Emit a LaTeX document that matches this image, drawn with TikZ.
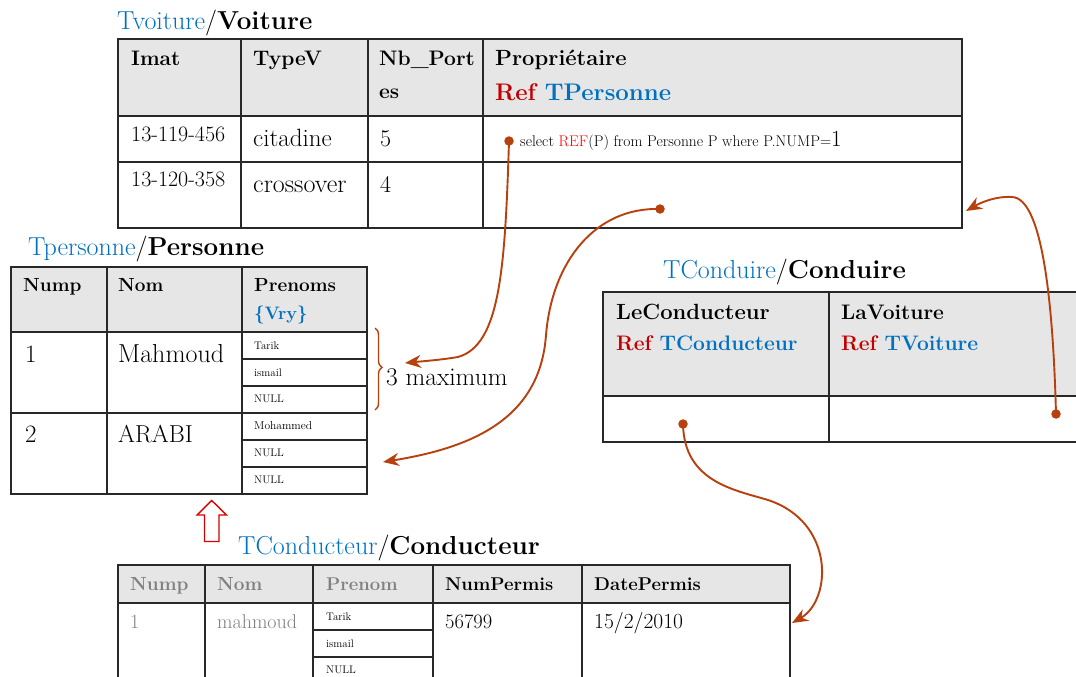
\documentclass[tikz,border=0pt]{standalone}
\usepackage{fontspec}
\usetikzlibrary{arrows.meta,decorations.pathreplacing}
\definecolor{tblue}{RGB}{0,112,192}
\definecolor{refred}{RGB}{192,0,0}
\definecolor{brightred}{RGB}{255,0,0}
\definecolor{rust}{RGB}{183,65,14}
\definecolor{hdrgray}{RGB}{230,230,230}
\definecolor{gridc}{RGB}{40,40,40}
\definecolor{greytxt}{RGB}{128,128,128}
\newcommand\fsz[1]{\fontsize{#1}{#1}\selectfont}
\tikzset{
  hdr/.style={fill=hdrgray},
  grid/.style={draw=gridc, line width=1.7pt},
  lbl/.style={anchor=base west, inner sep=0pt},
  title/.style={lbl, font=\fsz{26}},
  dot/.style={circle, fill=rust, inner sep=0pt, minimum size=9.5pt},
  link/.style={draw=rust, line width=1.9pt, -{Stealth[length=16pt,width=13pt]}},
}
\begin{document}
\begin{tikzpicture}[x=1pt,y=-1pt]
\clip (0,0) rectangle (1076,677);
\fill[white] (0,0) rectangle (1076,677);

% ---------- Voiture ----------
\node[title] (tvoit) at (117,30) {\textcolor{tblue}{Tvoiture}/\textbf{Voiture}};
\fill[hdr] (118,39) rectangle (962,116);
\draw[grid] (118,39) rectangle (962,228);
\draw[grid] (118,116) -- (962,116) (118,162) -- (962,162);
\draw[grid] (241,39) -- (241,228) (368,39) -- (368,228) (483,39) -- (483,228);
\node[lbl, font=\fsz{21}\bfseries] (v-imat) at (131,66) {Imat};
\node[lbl, font=\fsz{21}\bfseries] (v-type) at (253,66) {TypeV};
\node[lbl, font=\fsz{21}\bfseries] (v-nb1) at (379,66) {Nb\_Port};
\node[lbl, font=\fsz{21}\bfseries] (v-nb2) at (379,98) {es};
\node[lbl, font=\fsz{22}\bfseries] (v-prop) at (495,66) {Propriétaire};
\node[lbl, font=\fsz{24}\bfseries] (v-ref) at (495,100) {\textcolor{refred}{Ref} \textcolor{tblue}{TPersonne}};
\node[lbl, font=\fsz{22}] (v-im1) at (131,141.7) {13-119-456};
\node[lbl, font=\fsz{25}] (v-ty1) at (253,146.7) {citadine};
\node[lbl, font=\fsz{24}] (v-nb1v) at (380,146.7) {5};
\node[lbl] (v-sel) at (520,146.7) {\fsz{15.5}select \textcolor{brightred}{REF}(P) from Personne P where P.NUMP=\fsz{23}1};
\node[lbl, font=\fsz{22}] (v-im2) at (131,186.7) {13-120-358};
\node[lbl, font=\fsz{26}] (v-ty2) at (253,192.7) {crossover};
\node[lbl, font=\fsz{24}] (v-nb2v) at (380,192.7) {4};

% ---------- Personne ----------
\node[title] (tpers) at (28,255) {\textcolor{tblue}{Tpersonne}/\textbf{Personne}};
\fill[hdr] (11,267) rectangle (367,332);
\draw[grid] (11,267) rectangle (367,494);
\draw[grid] (11,332) -- (367,332) (11,413) -- (367,413);
\draw[grid] (107,267) -- (107,494) (242,267) -- (242,494);
\draw[grid] (242,359) -- (367,359) (242,386) -- (367,386)
            (242,440) -- (367,440) (242,467) -- (367,467);
\node[lbl, font=\fsz{19}\bfseries] (p-nump) at (23,291.7) {Nump};
\node[lbl, font=\fsz{19}\bfseries] (p-nom) at (118,291.7) {Nom};
\node[lbl, font=\fsz{19}\bfseries] (p-pren) at (254,291.7) {Prenoms};
\node[lbl, font=\fsz{18}\bfseries, text=tblue] (p-vry) at (254,319) {\{Vry\}};
\node[lbl, font=\fsz{25}] (p-n1) at (25,362.7) {1};
\node[lbl, font=\fsz{26}] (p-nom1) at (118,362.7) {Mahmoud};
\node[lbl, font=\fsz{11}] (p-a1) at (254,349) {Tarik};
\node[lbl, font=\fsz{11}] (p-a2) at (254,376) {ismail};
\node[lbl, font=\fsz{11}] (p-a3) at (254,402.7) {NULL};
\node[lbl, font=\fsz{25}] (p-n2) at (25,442.7) {2};
\node[lbl, font=\fsz{24.5}] (p-nom2) at (118,442.7) {ARABI};
\node[lbl, font=\fsz{11.5}] (p-b1) at (254,429.3) {Mohammed};
\node[lbl, font=\fsz{11}] (p-b2) at (254,456) {NULL};
\node[lbl, font=\fsz{11}] (p-b3) at (254,483.3) {NULL};
\draw[rust, line width=1.4pt, decorate,
      decoration={brace, amplitude=7pt, aspect=0.48}] (375,328) -- (375,410);
\node[lbl, font=\fsz{25.5}] (p-max) at (386,385) {3 maximum};

% ---------- Conduire ----------
\node[title] (tcond) at (663,278) {\textcolor{tblue}{TConduire}/\textbf{Conduire}};
\fill[hdr] (603,292) rectangle (1090,396);
\draw[grid] (1090,292) -- (603,292) -- (603,442) -- (1090,442);
\draw[grid] (603,396) -- (1090,396) (829,292) -- (829,442);
\node[lbl, font=\fsz{22}\bfseries] (c-lec) at (616,319) {LeConducteur};
\node[lbl, font=\fsz{21}\bfseries] (c-ref1) at (616,350) {\textcolor{refred}{Ref} \textcolor{tblue}{TConducteur}};
\node[lbl, font=\fsz{21}\bfseries] (c-lav) at (841,319) {LaVoiture};
\node[lbl, font=\fsz{21}\bfseries] (c-ref2) at (841,350) {\textcolor{refred}{Ref} \textcolor{tblue}{TVoiture}};

% ---------- Conducteur ----------
\node[title] (tcdt) at (238,554) {\textcolor{tblue}{TConducteur}/\textbf{Conducteur}};
\fill[hdr] (118,565) rectangle (790,603);
\draw[grid] (118,690) -- (118,565) -- (790,565) -- (790,690);
\draw[grid] (118,603) -- (790,603);
\draw[grid] (205,565) -- (205,690) (313,565) -- (313,690)
            (433,565) -- (433,690) (582,565) -- (582,690);
\draw[grid] (313,630) -- (433,630) (313,657) -- (433,657);
\node[lbl, font=\fsz{19}\bfseries, text=greytxt] (k-nump) at (130,590) {Nump};
\node[lbl, font=\fsz{19}\bfseries, text=greytxt] (k-nom) at (217,590) {Nom};
\node[lbl, font=\fsz{18.5}\bfseries, text=greytxt] (k-pren) at (326,590) {Prenom};
\node[lbl, font=\fsz{18.5}\bfseries] (k-num) at (445,590) {NumPermis};
\node[lbl, font=\fsz{18.5}\bfseries] (k-date) at (594,590) {DatePermis};
\node[lbl, font=\fsz{20}, text=greytxt] (k-n1) at (130,628) {1};
\node[lbl, font=\fsz{20}, text=greytxt] (k-nom1) at (217,628) {mahmoud};
\node[lbl, font=\fsz{11}] (k-a1) at (326,620) {Tarik};
\node[lbl, font=\fsz{11}] (k-a2) at (326,647.3) {ismail};
\node[lbl, font=\fsz{11}] (k-a3) at (326,673.3) {NULL};
\node[lbl, font=\fsz{20.5}] (k-num1) at (445,628) {56799};
\node[lbl, font=\fsz{21.5}] (k-date1) at (594,628) {15/2/2010};

% hollow arrow: Conducteur inherits from Personne
\draw[draw=red!85!black, line width=1.4pt, line join=miter]
  (204.5,541.5) -- (204.5,515) -- (197,515) -- (211.7,500.5) -- (226.5,515)
  -- (219,515) -- (219,541.5) -- cycle;

% ---------- reference links ----------
\node[dot] (d1) at (509,141) {};
\node[dot] (d2) at (660,209) {};
\node[dot] (d3) at (1056,414) {};
\node[dot] (d4) at (683,424) {};
\coordinate (e1) at (405,363);
\coordinate (e2) at (383,462);
\coordinate (e3) at (966,211);
\coordinate (e4) at (792,623);

\draw[link] (d1.center) .. controls (505,270) and (500,345) .. (458,357)
  .. controls (440,360) and (425,361) .. (e1);
\draw[link] (d2.center) .. controls (595,207) and (552,262) .. (546,335)
  .. controls (540,420) and (470,448) .. (e2);
\draw[link] (d3.center) .. controls (1053,300) and (1042,198) .. (1012,197)
  .. controls (995,196) and (980,203) .. (e3);
\draw[link] (d4.center) .. controls (684,482) and (735,490) .. (768,500)
  .. controls (835,522) and (832,600) .. (e4);
\end{tikzpicture}
\end{document}
